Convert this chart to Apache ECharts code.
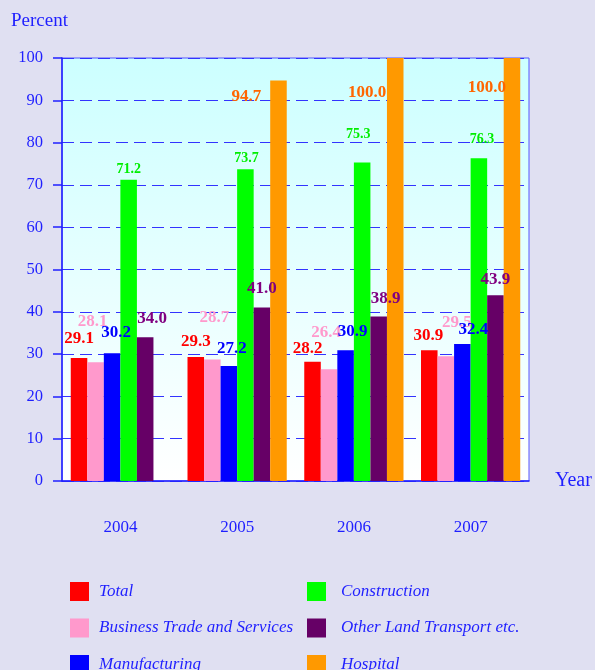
<!DOCTYPE html>
<html lang="en">
<head>
  <meta charset="utf-8">
  <title>Percent by year</title>
  <script src="https://cdn.jsdelivr.net/npm/echarts@6/dist/echarts.min.js"></script>
  <style>
    html, body { margin: 0; padding: 0; background: #e0e0f2; }
    #chart1 { width: 595px; height: 670px; }
  </style>
</head>
<body>
<div id="chart1"></div>

<script>
  // data
  var years = ['2004', '2005', '2006', '2007'];
  var yTicks = [0, 10, 20, 30, 40, 50, 60, 70, 80, 90, 100];
  var seriesNames = ['Total', 'Business Trade and Services', 'Manufacturing',
                     'Construction', 'Other Land Transport etc.', 'Hospital'];
  var total         = [29.1, 29.3, 28.2, 30.9];
  var business      = [28.1, 28.7, 26.4, 29.5];
  var manufacturing = [30.2, 27.2, 30.9, 32.4];
  var construction  = [71.2, 73.7, 75.3, 76.3];
  var landTransport = [34.0, 41.0, 38.9, 43.9];
  var hospital      = [null, 94.7, 100.0, 100.0];

  // styling
  var barColors   = ['#ff0000', '#ff99cc', '#0000ff', '#00ff00', '#660066', '#ff9900'];
  var labelColors = ['#ff0000', '#ff99cc', '#0000ff', '#00ee00', '#800080', '#ff6600'];
  var labelSizes  = [17, 17, 17, 14, 17, 17];
  // label nudges [dx, dy] per series, per year (labels in the original are staggered)
  var labelNudge = [
    [[0, -11], [0, -7], [-5, -5], [-1, -6]],
    [[-3, -32], [2, -33], [-3, -28], [11, -25]],
    [[4, -12], [3, -9], [7, -10], [11, -6]],
    [[0, -3], [1, -4], [-4, -21], [3, -12]],
    [[7, -10], [0, -10], [7, -9], [0, -7]],
    [[0, 0], [-32, 25], [-28, 43], [-25, 38]]
  ];

  var values = [total, business, manufacturing, construction, landTransport, hospital];
  var blue = '#1f1fff';
  var font = '"Liberation Serif", "Times New Roman", serif';

  function cargar_chart() {
    var chart1 = echarts.init(document.getElementById('chart1'));

    var series = values.map(function (vals, s) {
      return {
        name: seriesNames[s],
        type: 'bar',
        barGap: '0%',
        barCategoryGap: '15%',
        itemStyle: { color: barColors[s] },
        data: vals.map(function (v, i) {
          return {
            value: v,
            label: { offset: labelNudge[s][i] }
          };
        }),
        label: {
          show: true,
          position: 'top',
          distance: 0,
          color: labelColors[s],
          fontFamily: font,
          fontWeight: 'bold',
          fontSize: labelSizes[s],
          formatter: function (p) { return p.value == null ? '' : p.value.toFixed(1); }
        }
      };
    });

    function legendBox(names, left, gap) {
      return {
        data: names,
        orient: 'vertical',
        left: left, top: 582, height: 130,
        padding: 0,
        itemWidth: 19, itemHeight: 19, itemGap: 17.5,
        icon: 'rect',
        textStyle: { color: blue, fontFamily: font, fontStyle: 'italic', fontSize: 17, padding: [0, 0, 0, gap] }
      };
    }

    var option = {
      backgroundColor: '#e0e0f2',
      animation: false,
      grid: {
        left: 62, right: 66, top: 58, bottom: 189,
        show: true,
        borderColor: '#5555ff',
        borderWidth: 1,
        backgroundColor: new echarts.graphic.LinearGradient(0, 0, 0, 1, [
          { offset: 0, color: '#ccffff' },
          { offset: 1, color: '#ffffff' }
        ])
      },
      legend: [
        legendBox(seriesNames.slice(0, 3), 70, 5),
        legendBox(seriesNames.slice(3), 307, 10)
      ],
      xAxis: {
        type: 'category',
        data: years,
        name: 'Year',
        nameLocation: 'end',
        nameGap: 26,
        nameTextStyle: { color: blue, fontFamily: font, fontSize: 20, verticalAlign: 'middle' },
        axisLine: { lineStyle: { color: blue, width: 1.5 } },
        axisTick: { length: 8, lineStyle: { color: blue, width: 1.5 } },
        axisLabel: { color: blue, fontFamily: font, fontSize: 17, margin: 38 },
        splitLine: { show: false }
      },
      yAxis: {
        type: 'value',
        min: yTicks[0],
        max: yTicks[yTicks.length - 1],
        interval: yTicks[1] - yTicks[0],
        name: 'Percent',
        nameLocation: 'end',
        nameGap: 27,
        nameTextStyle: { color: blue, fontFamily: font, fontSize: 19, align: 'left', padding: [0, 0, 0, -51] },
        axisLine: { show: true, lineStyle: { color: blue, width: 1.5 } },
        axisTick: { show: true, length: 9, lineStyle: { color: blue, width: 1.5 } },
        axisLabel: { color: blue, fontFamily: font, fontSize: 16.5, margin: 19 },
        splitLine: { show: true, lineStyle: { color: '#3333ff', type: [12, 6], width: 1.2 } }
      },
      series: series
    };
    chart1.setOption(option);
  }

  cargar_chart();
</script>

</body>
</html>
